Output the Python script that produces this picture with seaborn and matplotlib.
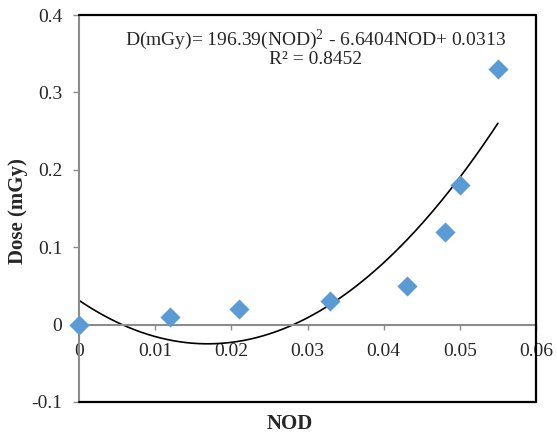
import numpy as np
import pandas as pd
import matplotlib
matplotlib.use("Agg")
import matplotlib.pyplot as plt
import seaborn as sns

# Data
nod = [0.0, 0.012, 0.021, 0.033, 0.043, 0.048, 0.050, 0.055]
dose = [0.0, 0.01, 0.02, 0.03, 0.05, 0.12, 0.18, 0.33]
# Trendline coefficients shown on the chart
coef = [196.39, -6.6404, 0.0313]
x_ticks = [0, 0.01, 0.02, 0.03, 0.04, 0.05, 0.06]
y_ticks = [-0.1, 0, 0.1, 0.2, 0.3, 0.4]

sns.set_style("white")
plt.rcParams['font.family'] = ['Liberation Serif', 'DejaVu Serif']
plt.rcParams['mathtext.fontset'] = 'custom'
plt.rcParams['mathtext.rm'] = 'Liberation Serif'
plt.rcParams['mathtext.it'] = 'Liberation Serif:italic'
plt.rcParams['mathtext.bf'] = 'Liberation Serif:bold'

fig = plt.figure(figsize=(5.57, 4.37), dpi=100)
ax = fig.add_axes([79/557, 1-402/437, (536-79)/557, (402-15)/437])

df = pd.DataFrame({"NOD": nod, "Dose": dose})
xf = np.linspace(0, max(nod), 200)
fit = pd.DataFrame({"NOD": xf, "Dose": np.polyval(coef, xf)})

sns.lineplot(data=fit, x="NOD", y="Dose", ax=ax, color="black", linewidth=1.2)
sns.scatterplot(data=df, x="NOD", y="Dose", ax=ax, marker="D", s=105,
                color="#5B9BD5", linewidth=0, zorder=5, clip_on=False)

ax.set_xlim(0, 0.06)
ax.set_ylim(-0.1, 0.4)
ax.set_xticks(x_ticks)
ax.set_yticks(y_ticks)
ax.set_xticklabels([f"{v:g}" for v in x_ticks])
ax.set_yticklabels([f"{v:g}" for v in y_ticks])

grey = "#8c8c8c"
ax.spines['bottom'].set_position(('data', 0))
ax.spines['bottom'].set_color(grey)
ax.spines['bottom'].set_linewidth(1.5)
ax.spines['left'].set_color(grey)
ax.spines['left'].set_linewidth(1.5)
ax.spines['top'].set_visible(False)
ax.spines['right'].set_visible(False)
ax.plot([0, 1, 1, 0], [0, 0, 1, 1], transform=ax.transAxes, color="black",
        linewidth=1.6, clip_on=False, zorder=6)

ax.tick_params(axis='x', direction='out', length=3.5, width=1, color=grey,
               labelsize=14, pad=10, bottom=True)
ax.tick_params(axis='y', direction='out', length=4, width=1, color=grey,
               labelsize=14, pad=8, left=True)

ax.set_xlabel("")
ax.set_ylabel("")
fig.text(290/557, 1-424/437, "NOD", ha="center", va="center",
         fontsize=15, fontweight="bold")
fig.text(18/557, 1-211/437, "Dose (mGy)", ha="center", va="center",
         rotation=90, fontsize=15, fontweight="bold")

fig.text(316/557, 1-40/437, r"D(mGy)= 196.39(NOD)$^{2}$ - 6.6404NOD+ 0.0313",
         ha="center", va="center", fontsize=14)
fig.text(316/557, 1-59/437, "R² = 0.8452",
         ha="center", va="center", fontsize=14)

fig.savefig("out.png", dpi=100)
